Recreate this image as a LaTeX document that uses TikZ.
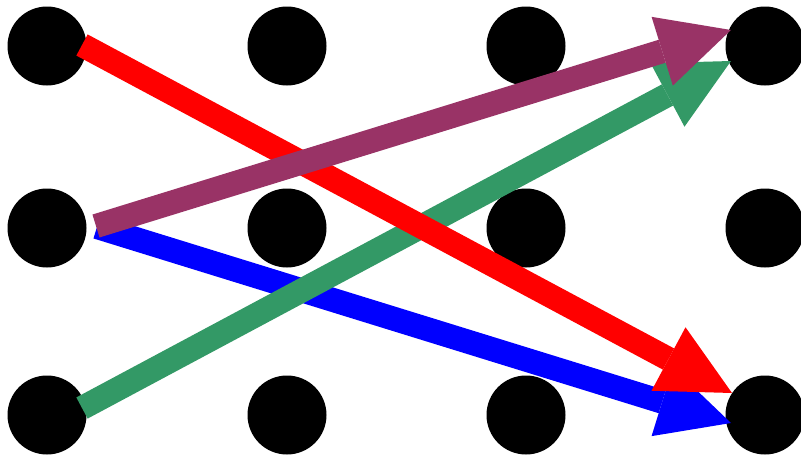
\documentclass[tikz,border=0pt]{standalone}
\usetikzlibrary{arrows.meta,calc}
\definecolor{arrred}{RGB}{255,0,0}
\definecolor{arrpurple}{RGB}{153,51,102}
\definecolor{arrblue}{RGB}{0,0,255}
\definecolor{arrgreen}{RGB}{51,153,102}
\begin{document}
\begin{tikzpicture}[x=1pt,y=-1pt,
  dot/.style={circle,fill=black,draw=none,inner sep=0pt,minimum size=79pt},
  fatarrow/.style={line width=24pt,-{Triangle[length=72pt,width=72pt,line width=0pt]}}]
\useasboundingbox (0,0) rectangle (801,458);
% dots
\foreach \c/\x in {1/47,2/287,3/526,4/765}{
  \node[dot] (d1\c) at (\x,46) {};
  \node[dot] (d2\c) at (\x,228) {};
  \node[dot] (d3\c) at (\x,415) {};
}
% arrows (bottom to top: blue, green, red, purple)
\draw[fatarrow,arrblue]   ($(d21)+(50,-1)$) -- ($(d34)+(-34,8)$);
\draw[fatarrow,arrgreen]  ($(d31)+(35,-7)$) -- ($(d14)+(-34,15)$);
\draw[fatarrow,arrred]    ($(d11)+(35,-1)$) -- ($(d34)+(-33,-22)$);
\draw[fatarrow,arrpurple] ($(d21)+(49,-2)$) -- ($(d14)+(-34,-16)$);
\end{tikzpicture}
\end{document}
